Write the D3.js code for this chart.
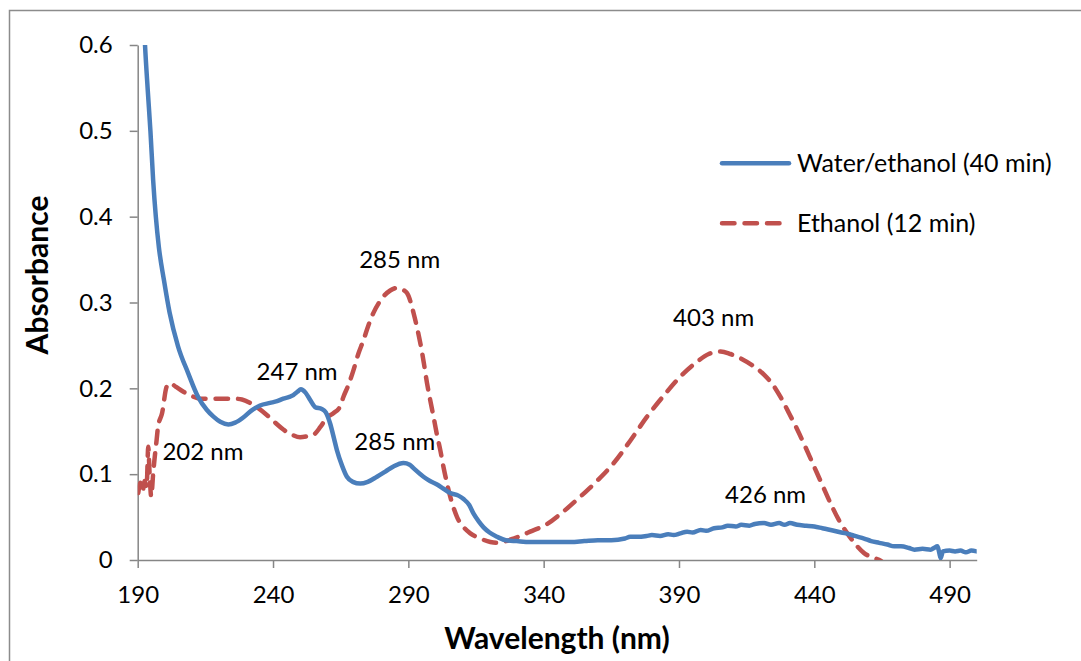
<!DOCTYPE html>
<html>
<head>
<meta charset="utf-8">
<script src="https://cdn.jsdelivr.net/npm/d3@7"></script>
<style>
  body { margin: 0; background: #fff; }
  text { font-family: Lato, "Open Sans", sans-serif; fill: #000; }
</style>
</head>
<body>
<div id="chart"></div>
<script>
// Wavelength (nm) / absorbance
var waterNm = [191.6, 192.7, 193.7, 194.7, 195.7, 196.7, 197.8, 199.7, 201.8, 204.9, 208.6, 212.3, 215.5, 218, 220.5, 223.5, 226, 229, 232, 235.2,
  238.9, 241.5, 243.8, 246, 247.5, 249, 250.3, 252, 253.8, 255.6, 258, 259.5, 261.1, 262.5, 263.6, 265.5, 267.3, 269.5, 272.2, 275,
  278.4, 281.5, 284.5, 288.2, 290.5, 291.9, 295.6, 298, 300.6, 303, 305.5, 308.5, 310.4, 312.5, 314.1, 316, 317.8, 320, 322.8, 326,
  330, 335, 340, 345, 350, 355, 360, 365, 370, 372, 375, 378, 380, 383, 386, 388, 390.5, 393, 395, 398,
  400, 403, 406, 408, 411, 413, 416, 418, 421.4, 424, 427, 429, 431, 433.7, 437, 440, 443, 446, 450, 453,
  455, 458.4, 461, 464, 467, 469.5, 472, 475, 477, 480, 483, 484.2, 485.5, 486.2, 486.7, 487.5, 490, 492, 494, 496, 498, 500];
var waterAbs = [0.68, 0.60, 0.548, 0.50, 0.443, 0.40, 0.365, 0.326, 0.288, 0.249, 0.218, 0.190, 0.175, 0.167, 0.161, 0.158, 0.160, 0.166, 0.174, 0.180,
  0.183, 0.185, 0.188, 0.190, 0.192, 0.196, 0.199, 0.195, 0.186, 0.178, 0.176, 0.172, 0.159, 0.142, 0.128, 0.110, 0.097, 0.091, 0.089, 0.091,
  0.097, 0.103, 0.109, 0.113, 0.111, 0.107, 0.097, 0.092, 0.088, 0.083, 0.078, 0.075, 0.071, 0.064, 0.054, 0.045, 0.038, 0.032, 0.027, 0.023,
  0.022, 0.021, 0.021, 0.021, 0.021, 0.022, 0.023, 0.023, 0.025, 0.027, 0.027, 0.028, 0.029, 0.028, 0.030, 0.029, 0.031, 0.033, 0.032, 0.035,
  0.034, 0.037, 0.038, 0.040, 0.039, 0.041, 0.040, 0.042, 0.043, 0.041, 0.043, 0.041, 0.043, 0.041, 0.040, 0.039, 0.037, 0.035, 0.032, 0.030,
  0.028, 0.025, 0.022, 0.020, 0.018, 0.016, 0.016, 0.014, 0.012, 0.013, 0.012, 0.014, 0.016, 0.008, 0.002, 0.010, 0.011, 0.010, 0.011, 0.009, 0.011, 0.010];

var ethanolNm = [190.2, 191, 191.8, 192.6, 193.3, 193.9, 194.4, 195, 195.7, 196.2, 197, 197.5, 199, 200.7, 202, 204, 206.9, 210, 213, 219.2,
  225.4, 228.5, 231.5, 234.5, 237.7, 240.8, 243.8, 247, 250, 252.5, 255, 257.5, 259.9, 262.3, 264.8, 266, 268, 269.7, 271.5, 273.4,
  275.2, 277.1, 279, 280.8, 283.3, 285.8, 287.8, 289.5, 290.8, 291.9, 293.2, 294.4, 295.7, 296.9, 298.1, 299.3, 300.5, 301.8, 303, 304.3,
  306, 308, 310.5, 312.9, 316.6, 320.3, 322.8, 326, 328.9, 335, 341.3, 347.5, 353.6, 360, 365.9, 372, 378.2, 384.5, 390.6, 396.7,
  401, 405.4, 409, 412.7, 417, 421.4, 424.5, 427.5, 430.5, 433.7, 436.8, 439.9, 443, 446, 449, 452.2, 455.3, 458.4, 461.5, 464.6, 468, 472];
var ethanolAbs = [0.078, 0.090, 0.080, 0.092, 0.085, 0.132, 0.100, 0.074, 0.100, 0.117, 0.140, 0.155, 0.171, 0.202, 0.206, 0.202, 0.196, 0.191, 0.188, 0.188,
  0.188, 0.187, 0.183, 0.177, 0.169, 0.160, 0.152, 0.146, 0.143, 0.144, 0.146, 0.155, 0.166, 0.171, 0.179, 0.190, 0.205, 0.221, 0.240, 0.256,
  0.273, 0.288, 0.299, 0.307, 0.314, 0.317, 0.315, 0.311, 0.301, 0.288, 0.271, 0.253, 0.230, 0.206, 0.186, 0.167, 0.147, 0.128, 0.108, 0.089,
  0.068, 0.050, 0.038, 0.031, 0.025, 0.021, 0.020, 0.022, 0.025, 0.033, 0.042, 0.057, 0.074, 0.093, 0.113, 0.139, 0.167, 0.192, 0.214, 0.231,
  0.240, 0.243, 0.240, 0.235, 0.227, 0.216, 0.205, 0.190, 0.172, 0.152, 0.131, 0.109, 0.087, 0.066, 0.047, 0.031, 0.018, 0.008, 0.003, -0.001, -0.012, -0.025];

var seriesNames = ["Water/ethanol (40 min)", "Ethanol (12 min)"];
var xTicks = [190, 240, 290, 340, 390, 440, 490];
var yTicks = [0, 0.1, 0.2, 0.3, 0.4, 0.5, 0.6];

// Peak labels, placed at (nm, absorbance)
var peakText = ["285 nm", "247 nm", "285 nm", "202 nm", "403 nm", "426 nm"];
var peakNm = [286.8, 248.9, 285, 214.1, 402.8, 422];
var peakAbs = [0.340, 0.210, 0.128, 0.1166, 0.273, 0.0664];

// Set the dimensions and margins of the graph
var W = 1081, H = 661;
var margin = {top: 45, right: 104.3, bottom: 101, left: 137.7},
    width = W - margin.left - margin.right,
    height = H - margin.top - margin.bottom;

var svg = d3.select("#chart")
  .append("svg")
    .attr("width", W)
    .attr("height", H);

// Outer chart border (runs off the right and bottom edge)
svg.append("rect")
  .attr("x", 9.5).attr("y", 10.5)
  .attr("width", W + 20).attr("height", H + 20)
  .attr("fill", "none")
  .attr("stroke", "#8c8c8c")
  .attr("stroke-width", 1.5);

var g = svg.append("g")
  .attr("transform", "translate(" + margin.left + "," + margin.top + ")");

var x = d3.scaleLinear().domain([190, 500]).range([0, width]);
var y = d3.scaleLinear().domain([0, 0.6]).range([height, 0]);

g.append("clipPath").attr("id", "plot-clip")
  .append("rect").attr("width", width).attr("height", height);

// Axes
var xAxis = g.append("g")
  .attr("transform", "translate(0," + height + ")")
  .call(d3.axisBottom(x).tickValues(xTicks).tickSize(8).tickSizeOuter(0).tickPadding(18));
var yAxis = g.append("g")
  .call(d3.axisLeft(y).tickValues(yTicks).tickSize(8).tickSizeOuter(0).tickPadding(17)
    .tickFormat(d => d === 0 ? "0" : d3.format(".1f")(d)));

[xAxis, yAxis].forEach(a => {
  a.select(".domain").attr("stroke", "#868686").attr("stroke-width", 1.5);
  a.selectAll(".tick line").attr("stroke", "#868686").attr("stroke-width", 1.5);
  a.selectAll(".tick text").style("font-family", "Lato, sans-serif").style("font-size", "24px").attr("fill", "#000");
});

// Axis titles
svg.append("text")
  .attr("x", 557).attr("y", 649)
  .attr("text-anchor", "middle")
  .style("font-size", "30px").style("font-weight", "bold")
  .text("Wavelength (nm)");

svg.append("text")
  .attr("transform", "translate(48,275) rotate(-90)")
  .attr("text-anchor", "middle")
  .style("font-size", "30px").style("font-weight", "bold")
  .text("Absorbance");

// Lines
var line = d3.line()
  .x(d => x(d[0]))
  .y(d => y(d[1]))
  .curve(d3.curveMonotoneX);

var water = d3.zip(waterNm, waterAbs);
var ethanol = d3.zip(ethanolNm, ethanolAbs);

var plot = g.append("g").attr("clip-path", "url(#plot-clip)");

plot.append("path")
  .datum(ethanol)
  .attr("d", line)
  .attr("fill", "none")
  .attr("stroke", "#C0504D")
  .attr("stroke-width", 4.5)
  .attr("stroke-dasharray", "12.5,10")
  .attr("stroke-linecap", "round");

plot.append("path")
  .datum(water)
  .attr("d", line)
  .attr("fill", "none")
  .attr("stroke", "#4A7EBB")
  .attr("stroke-width", 4.5)
  .attr("stroke-linejoin", "round")
  .attr("stroke-linecap", "round");

// Peak labels
g.selectAll(".peak")
  .data(peakText)
  .enter()
  .append("text")
    .attr("class", "peak")
    .attr("x", (d, i) => x(peakNm[i]))
    .attr("y", (d, i) => y(peakAbs[i]))
    .attr("text-anchor", "middle")
    .style("font-size", "24px")
    .text(d => d);

// Legend
var legend = svg.append("g");
var legendColors = ["#4A7EBB", "#C0504D"];
var legendDash = [null, "12.5,10"];
seriesNames.forEach((name, i) => {
  var ly = 163.3 + i * 60;
  legend.append("line")
    .attr("x1", 722).attr("x2", 789)
    .attr("y1", ly).attr("y2", ly)
    .attr("stroke", legendColors[i])
    .attr("stroke-width", 4.5)
    .attr("stroke-linecap", "round")
    .attr("stroke-dasharray", legendDash[i]);
  legend.append("text")
    .attr("x", 797).attr("y", ly + 8.5)
    .style("font-size", "25px")
    .text(name);
});
</script>
</body>
</html>
